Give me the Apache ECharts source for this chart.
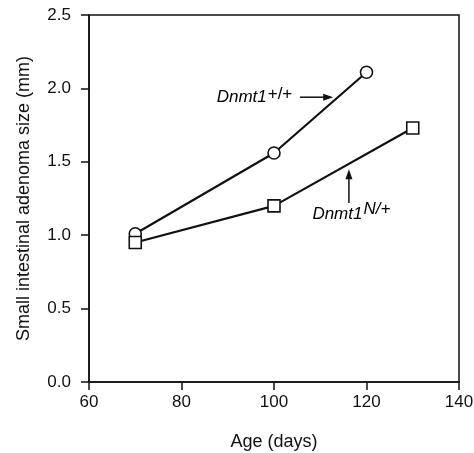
<!DOCTYPE html>
<html><head><meta charset="utf-8">
<script src="https://cdn.jsdelivr.net/npm/echarts@6/dist/echarts.min.js"></script>
<style>html,body{margin:0;padding:0;background:#fff}#c{width:474px;height:453px}</style>
</head><body><div id="c"></div>
<script>
const wildAges = [70, 100, 120];
const wildSize = [1.01, 1.56, 2.11];
const mutAges = [70, 100, 130];
const mutSize = [0.95, 1.20, 1.73];
const xTicks = [60, 80, 100, 120, 140];
const yTicks = [0.0, 0.5, 1.0, 1.5, 2.0, 2.5];
const FONT = 'Liberation Sans, Arial, sans-serif';

const chart = echarts.init(document.getElementById('c'), null, {renderer: 'canvas'});
const pairs = (xs, ys) => xs.map((x, i) => [x, ys[i]]);
const opt = {
  animation: false,
  grid: {left: 89, right: 15, top: 15, bottom: 71, containLabel: false, outerBoundsMode: 'none',
         show: true, borderColor: '#111', borderWidth: 1.5, backgroundColor: 'transparent'},
  xAxis: {
    type: 'value', min: xTicks[0], max: xTicks[xTicks.length - 1], interval: 20,
    name: 'Age (days)', nameLocation: 'middle', nameGap: 51,
    nameTextStyle: {fontFamily: FONT, fontSize: 18, color: '#111'},
    axisLine: {lineStyle: {color: '#111', width: 1.5}},
    axisTick: {show: true, length: 8, lineStyle: {color: '#111', width: 1.5}},
    axisLabel: {fontFamily: FONT, fontSize: 17, color: '#111', margin: 12},
    splitLine: {show: false}
  },
  yAxis: {
    type: 'value', min: yTicks[0], max: yTicks[yTicks.length - 1], interval: 0.5,
    name: 'Small intestinal adenoma size (mm)', nameLocation: 'middle', nameGap: 56,
    nameTextStyle: {fontFamily: FONT, fontSize: 18, color: '#111'},
    axisLine: {lineStyle: {color: '#111', width: 1.5}},
    axisTick: {show: true, length: 8, lineStyle: {color: '#111', width: 1.5}},
    axisLabel: {fontFamily: FONT, fontSize: 17, color: '#111', margin: 18, formatter: v => v.toFixed(1)},
    splitLine: {show: false}
  },
  series: [
    {type: 'line', name: 'Dnmt1+/+', data: pairs(wildAges, wildSize), symbol: 'circle', symbolSize: 12,
     lineStyle: {color: '#111', width: 2.2}, itemStyle: {color: '#fff', borderColor: '#111', borderWidth: 1.6}},
    {type: 'line', name: 'Dnmt1N/+', data: pairs(mutAges, mutSize), symbol: 'rect', symbolSize: 12,
     lineStyle: {color: '#111', width: 2.2}, itemStyle: {color: '#fff', borderColor: '#111', borderWidth: 1.6}}
  ]
};
chart.setOption(opt);

// annotations placed in data space
const p = (x, y) => chart.convertToPixel({gridIndex: 0}, [x, y]);
const a1s = p(105.6, 1.94), a1e = p(112.8, 1.94);
const a2s = p(116.2, 1.22), a2e = p(116.2, 1.45);
const t1 = p(87.6, 1.94), t2 = p(108.3, 1.14);
const rich = {
  b: {fontFamily: FONT, fontSize: 17, fontStyle: 'italic', color: '#111'},
  s: {fontFamily: FONT, fontSize: 17, fontStyle: 'italic', color: '#111', padding: [0,0,10,1]},
  su: {fontFamily: FONT, fontSize: 17, color: '#111', padding: [0,0,6,1]}
};
chart.setOption({
  graphic: [
    {type: 'text', x: t1[0], y: t1[1], style: {text: '{b|Dnmt1}{su|+/+}', rich, verticalAlign: 'middle', align: 'left'}},
    {type: 'text', x: t2[0], y: t2[1], style: {text: '{b|Dnmt1}{s|N/+}', rich, verticalAlign: 'middle', align: 'left'}},
    {type: 'line', shape: {x1: a1s[0], y1: a1s[1], x2: a1e[0] - 8, y2: a1e[1]}, style: {stroke: '#111', lineWidth: 1.5}},
    {type: 'polygon', shape: {points: [[a1e[0], a1e[1]], [a1e[0] - 10, a1e[1] - 3.5], [a1e[0] - 10, a1e[1] + 3.5]]}, style: {fill: '#111'}},
    {type: 'line', shape: {x1: a2s[0], y1: a2s[1], x2: a2e[0], y2: a2e[1] + 8}, style: {stroke: '#111', lineWidth: 1.5}},
    {type: 'polygon', shape: {points: [[a2e[0], a2e[1]], [a2e[0] - 3.5, a2e[1] + 10], [a2e[0] + 3.5, a2e[1] + 10]]}, style: {fill: '#111'}}
  ]
});
</script></body></html>
